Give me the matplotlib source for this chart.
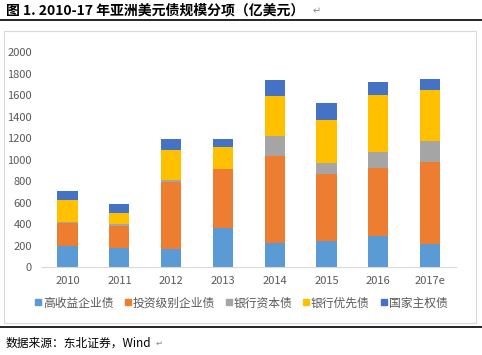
import matplotlib.pyplot as plt
import numpy as np
from matplotlib.patches import Rectangle
from matplotlib.lines import Line2D

plt.rcParams['font.family'] = ['Noto Sans CJK SC', 'DejaVu Sans']

# 数据（亿美元）
years = ['2010', '2011', '2012', '2013', '2014', '2015', '2016', '2017e']
series = ['高收益企业债', '投资级别企业债', '银行资本债', '银行优先债', '国家主权债']
high_yield = [200, 180, 170, 365, 230, 248, 290, 217]
invest_grade = [210, 207, 620, 545, 805, 620, 633, 766]
bank_capital = [10, 13, 22, 5, 190, 100, 148, 192]
bank_senior = [205, 102, 279, 207, 370, 403, 531, 471]
sovereign = [85, 87, 102, 70, 148, 160, 121, 106]
colors = ['#5B9BD5', '#ED7D31', '#A5A5A5', '#FFC000', '#4472C4']

fig = plt.figure(figsize=(4.82, 3.55), dpi=100)
ax = fig.add_axes([0.0865, 0.247, 0.8595, 0.606])

x = np.arange(len(years))
bottom = np.zeros(len(years))
for name, vals, c in zip(series, [high_yield, invest_grade, bank_capital, bank_senior, sovereign], colors):
    ax.bar(x, vals, width=0.39, bottom=bottom, color=c, label=name)
    bottom += np.array(vals)

ax.set_xlim(-0.5, len(years) - 0.5)
ax.set_ylim(0, 2000)
ax.set_yticks(range(0, 2001, 200))
ax.set_xticks(x)
ax.set_xticklabels(years)
ax.tick_params(axis='both', length=0, labelsize=8, colors='#595959')
ax.tick_params(axis='y', pad=7)
ax.tick_params(axis='x', pad=6)
for s in ['top', 'right', 'left']:
    ax.spines[s].set_visible(False)
ax.spines['bottom'].set_color('#D9D9D9')

handles = [Line2D([], [], marker='s', color=c, linestyle='', markersize=4.5) for c in colors]
fig.legend(handles, series, loc='center', bbox_to_anchor=(0.5, 1 - 303 / 355), ncol=5,
           frameon=False, fontsize=8.5, handlelength=0.6, handletextpad=0.1,
           columnspacing=0.9, labelcolor='#595959')

# 图框
fig.patches.append(Rectangle((4 / 482, 1 - 322.5 / 355), 472 / 482, 291.5 / 355,
                             transform=fig.transFigure, fill=False, edgecolor='#D9D9D9', linewidth=0.8))
fig.add_artist(Line2D([0, 1], [1 - 20 / 355] * 2, color='black', linewidth=1.2, transform=fig.transFigure))
fig.add_artist(Line2D([0, 1], [1 - 327 / 355] * 2, color='black', linewidth=1.2, transform=fig.transFigure))

fig.text(6 / 482, 1 - 10 / 355, '图 1. 2010-17 年亚洲美元债规模分项（亿美元）', fontsize=10,
         fontweight='bold', va='center', ha='left')
fig.text(313 / 482, 1 - 11 / 355, '↵', fontsize=7, color='#888888', va='center', ha='left')
fig.text(6 / 482, 1 - 343 / 355, '数据来源：东北证券，Wind', fontsize=8.5, va='center', ha='left')
fig.text(156 / 482, 1 - 343 / 355, '↵', fontsize=6, color='#888888', va='center', ha='left')

fig.savefig('out.png', dpi=100)
